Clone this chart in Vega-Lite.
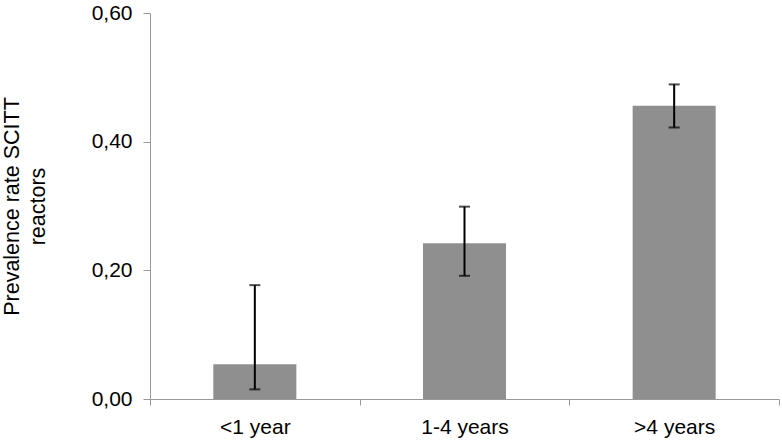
{
  "$schema": "https://vega.github.io/schema/vega-lite/v6.json",
  "autosize": "none",
  "width": 629,
  "height": 386,
  "padding": {"left": 150, "top": 13, "right": 3, "bottom": 43},
  "background": "white",
  "config": {
    "view": {"stroke": null},
    "font": "Liberation Sans",
    "axis": {"grid": false, "labelFont": "Liberation Sans", "titleFont": "Liberation Sans", "labelColor": "#000", "titleColor": "#000", "domainColor": "#999", "tickColor": "#999", "labelFontSize": 21, "titleFontWeight": "normal"}
  },
  "data": {
    "values": [
      {"age": "<1 year", "rate": 0.054, "lo": 0.015, "hi": 0.177},
      {"age": "1-4 years", "rate": 0.242, "lo": 0.1915, "hi": 0.299},
      {"age": ">4 years", "rate": 0.456, "lo": 0.422, "hi": 0.489}
    ]
  },
  "encoding": {
    "x": {
      "field": "age", "type": "nominal", "sort": null,
      "scale": {"paddingInner": 0, "paddingOuter": 0},
      "axis": {"title": null, "labelAngle": 0, "tickBand": "extent", "tickSize": 6, "labelPadding": 11, "labelBaseline": "top", "labelFontSize": 21}
    }
  },
  "layer": [
    {
      "mark": {"type": "bar", "color": "#8f8f8f", "width": {"band": 0.396}},
      "encoding": {
        "y": {
          "field": "rate", "type": "quantitative",
          "scale": {"domain": [0, 0.6], "nice": false},
          "axis": {
            "values": [0, 0.2, 0.4, 0.6],
            "labelExpr": "replace(format(datum.value, '.2f'), '.', ',')",
            "tickSize": 7, "labelPadding": 11, "labelFontSize": 21,
            "title": ["Prevalence rate SCITT", "reactors"],
            "titleFontSize": 21.5, "titleLineHeight": 26,
            "titleAngle": -90, "titleAlign": "center", "titleBaseline": "top",
            "titleX": -149, "titleY": 193
          }
        }
      }
    },
    {
      "mark": {"type": "rule", "color": "#000", "strokeWidth": 2},
      "encoding": {
        "y": {"field": "lo", "type": "quantitative"},
        "y2": {"field": "hi"}
      }
    },
    {
      "mark": {"type": "tick", "color": "#000", "thickness": 2, "size": 11},
      "encoding": {"y": {"field": "lo", "type": "quantitative"}}
    },
    {
      "mark": {"type": "tick", "color": "#000", "thickness": 2, "size": 11},
      "encoding": {"y": {"field": "hi", "type": "quantitative"}}
    }
  ]
}
